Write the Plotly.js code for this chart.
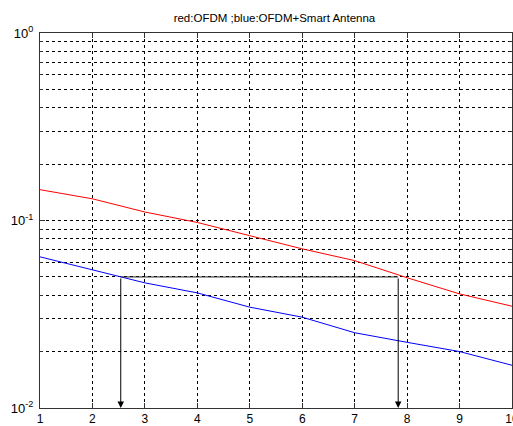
<!DOCTYPE html>
<html><head><meta charset="utf-8">
<script src="https://cdn.plot.ly/plotly-3.0.1.min.js"></script>
<style>html,body{margin:0;padding:0;background:#fff;}#plot{width:513px;height:426px;}</style>
</head><body><div id="plot"></div>
<script>
const xVals = [1, 2, 3, 4, 5, 6, 7, 8, 9, 10];
const ofdm = [0.146, 0.1305, 0.111, 0.0976, 0.083, 0.0706, 0.0611, 0.0495, 0.0406, 0.0349];
const ofdmSmart = [0.064, 0.0548, 0.0465, 0.0411, 0.0345, 0.0305, 0.0252, 0.0224, 0.0200, 0.0169];
const crossLevel = 0.05;
const crossX = [2.54, 7.83];
const yFloor = 0.01;
const xTicks = [1, 2, 3, 4, 5, 6, 7, 8, 9, 10];
const xTickText = ['1', '2', '3', '4', '5', '6', '7', '8', '9', '10'];
const yTicks = [0.01, 0.1, 1];
const yTickText = ['10<sup>-2</sup>', '10<sup>-1</sup>', '10<sup>0</sup>'];
const yMinor = [];
[0.01, 0.1].forEach(d => { for (let k = 2; k <= 9; k++) yMinor.push(+(k * d).toPrecision(3)); });

const traces = [
  {x: xVals, y: ofdm, mode: 'lines', line: {color: '#ff0000', width: 1}, hoverinfo: 'skip'},
  {x: xVals, y: ofdmSmart, mode: 'lines', line: {color: '#0000ff', width: 1}, hoverinfo: 'skip'},
  {x: crossX, y: [crossLevel, crossLevel], mode: 'lines', line: {color: '#222', width: 1}, hoverinfo: 'skip'}
];

const annotations = crossX.map(cx => ({
  x: cx, y: Math.log10(yFloor), ax: cx, ay: Math.log10(crossLevel),
  xref: 'x', yref: 'y', axref: 'x', ayref: 'y',
  showarrow: true, arrowhead: 2, arrowsize: 1.3, arrowwidth: 1, arrowcolor: '#000', text: ''
}));

const fontFam = 'Liberation Sans, Arial, sans-serif';
const gridDash = '3px,3px';
const layout = {
  width: 513, height: 426,
  margin: {l: 40, r: 1, t: 33, b: 18},
  paper_bgcolor: '#fff', plot_bgcolor: '#fff',
  showlegend: false,
  title: {text: 'red:OFDM ;blue:OFDM+Smart Antenna', font: {family: fontFam, size: 11.5, color: '#000'}, x: 0.535, xanchor: 'center', y: 0.957, yanchor: 'middle'},
  xaxis: {range: [1, 10], tickvals: xTicks, ticktext: xTickText, showgrid: true, gridcolor: '#000', griddash: gridDash, gridwidth: 1,
    zeroline: false, showline: true, linecolor: '#333', mirror: 'ticks', ticks: 'inside', ticklen: 5, tickcolor: '#333',
    ticklabeloverflow: 'allow', automargin: false,
    tickfont: {family: fontFam, size: 12, color: '#000'}},
  yaxis: {type: 'log', range: [-2, 0], tickvals: yTicks, ticktext: yTickText, showgrid: true, gridcolor: '#000', griddash: gridDash, gridwidth: 1,
    zeroline: false, showline: true, linecolor: '#333', mirror: 'ticks', ticks: 'inside', ticklen: 5, tickcolor: '#333',
    automargin: false, ticklabelstandoff: 3,
    tickfont: {family: fontFam, size: 13, color: '#000'},
    minor: {tickvals: yMinor, showgrid: true, gridcolor: '#000', griddash: gridDash, gridwidth: 1, ticks: 'inside', ticklen: 3, tickcolor: '#333'}},
  annotations: annotations
};
Plotly.newPlot('plot', traces, layout, {staticPlot: true, displayModeBar: false});
</script></body></html>
